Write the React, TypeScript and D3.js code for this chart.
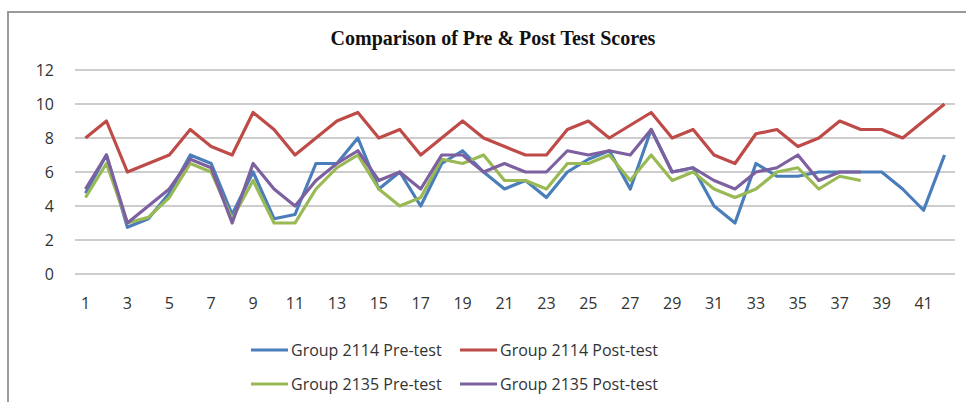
import React from "react";
import * as d3 from "d3";

const categories = [
  1, 2, 3, 4, 5, 6, 7, 8, 9, 10, 11, 12, 13, 14, 15, 16, 17, 18, 19, 20, 21,
  22, 23, 24, 25, 26, 27, 28, 29, 30, 31, 32, 33, 34, 35, 36, 37, 38, 39, 40, 41, 42,
];

const pre2114 = [
  4.75, 7, 2.75, 3.25, 4.75, 7, 6.5, 3.5, 6, 3.25, 3.5, 6.5, 6.5, 8, 5, 6, 4, 6.5, 7.25, 6, 5,
  5.5, 4.5, 6, 6.75, 7.25, 5, 8.5, 6, 6.25, 4, 3, 6.5, 5.75, 5.75, 6, 6, 6, 6, 5, 3.75, 7,
];
const post2114 = [
  8, 9, 6, 6.5, 7, 8.5, 7.5, 7, 9.5, 8.5, 7, 8, 9, 9.5, 8, 8.5, 7, 8, 9, 8, 7.5,
  7, 7, 8.5, 9, 8, 8.75, 9.5, 8, 8.5, 7, 6.5, 8.25, 8.5, 7.5, 8, 9, 8.5, 8.5, 8, 9, 10,
];
const pre2135 = [
  4.5, 6.5, 3, 3.33, 4.5, 6.5, 6, 3.25, 5.5, 3, 3, 5, 6.25, 7, 5, 4, 4.5, 6.75, 6.5, 7,
  5.5, 5.5, 5, 6.5, 6.5, 7, 5.5, 7, 5.5, 6, 5, 4.5, 5, 6, 6.25, 5, 5.75, 5.5,
];
const post2135 = [
  5, 7, 3, 4, 5, 6.75, 6.25, 3, 6.5, 5, 4, 5.5, 6.5, 7.25, 5.5, 6, 5, 7, 7, 6,
  6.5, 6, 6, 7.25, 7, 7.25, 7, 8.5, 6, 6.25, 5.5, 5, 6, 6.25, 7, 5.5, 6, 6,
];

const yTicks = [0, 2, 4, 6, 8, 10, 12];
const xTickLabels = [1, 3, 5, 7, 9, 11, 13, 15, 17, 19, 21, 23, 25, 27, 29, 31, 33, 35, 37, 39, 41];

const series = [
  { name: "Group 2114 Pre-test", values: pre2114, color: "#4a7ebb" },
  { name: "Group 2114 Post-test", values: post2114, color: "#be4b48" },
  { name: "Group 2135 Pre-test", values: pre2135, color: "#98b954" },
  { name: "Group 2135 Post-test", values: post2135, color: "#7d60a0" },
];

const W = 966;
const H = 402;
const plot = { left: 75, right: 955, top: 70, bottom: 274 };
const font = "'Open Sans', 'Liberation Sans', sans-serif";

export default function App() {
  const band = (plot.right - plot.left) / categories.length;
  const x = d3
    .scalePoint<number>()
    .domain(categories)
    .range([plot.left + band / 2, plot.right - band / 2]);
  const y = d3.scaleLinear().domain([0, 12]).range([plot.bottom, plot.top]);

  const line = d3
    .line<number>()
    .x((_, i) => x(categories[i])!)
    .y((v) => y(v));

  // legend: 2 columns x 2 rows
  const legendPos = [
    { lx: 251, ly: 350 },
    { lx: 460, ly: 350 },
    { lx: 251, ly: 384 },
    { lx: 460, ly: 384 },
  ];

  return (
    <svg
      width={W}
      height={H}
      style={{ position: "absolute", left: 0, top: 0, background: "#fff" }}
    >
      <rect x={8} y={12} width={W + 20} height={H + 20} fill="#fff" stroke="#9a9a9a" strokeWidth={2} />

      <text
        x={493}
        y={45}
        textAnchor="middle"
        fontFamily="'Liberation Serif', 'Times New Roman', serif"
        fontWeight="bold"
        fontSize={20}
        fill="#111"
      >
        Comparison of Pre &amp; Post Test Scores
      </text>

      {yTicks.map((t) => (
        <g key={t}>
          <line x1={plot.left} x2={plot.right} y1={y(t)} y2={y(t)} stroke="#bdbdbd" strokeWidth={1.5} />
          <text x={54} y={y(t)} dy="0.35em" textAnchor="end" fontFamily={font} fontSize={16} fill="#333">
            {t}
          </text>
        </g>
      ))}

      {xTickLabels.map((c) => (
        <text key={c} x={x(c)} y={309} textAnchor="middle" fontFamily={font} fontSize={16} fill="#333">
          {c}
        </text>
      ))}

      {series.map((s) => (
        <path
          key={s.name}
          d={line(s.values) ?? ""}
          fill="none"
          stroke={s.color}
          strokeWidth={3.2}
          strokeLinejoin="round"
        />
      ))}

      {series.map((s, i) => {
        const p = legendPos[i];
        return (
          <g key={s.name}>
            <line x1={p.lx} x2={p.lx + 37} y1={p.ly} y2={p.ly} stroke={s.color} strokeWidth={3.2} />
            <text x={p.lx + 40} y={p.ly} dy="0.35em" fontFamily={font} fontSize={16} fill="#333">
              {s.name}
            </text>
          </g>
        );
      })}
    </svg>
  );
}
